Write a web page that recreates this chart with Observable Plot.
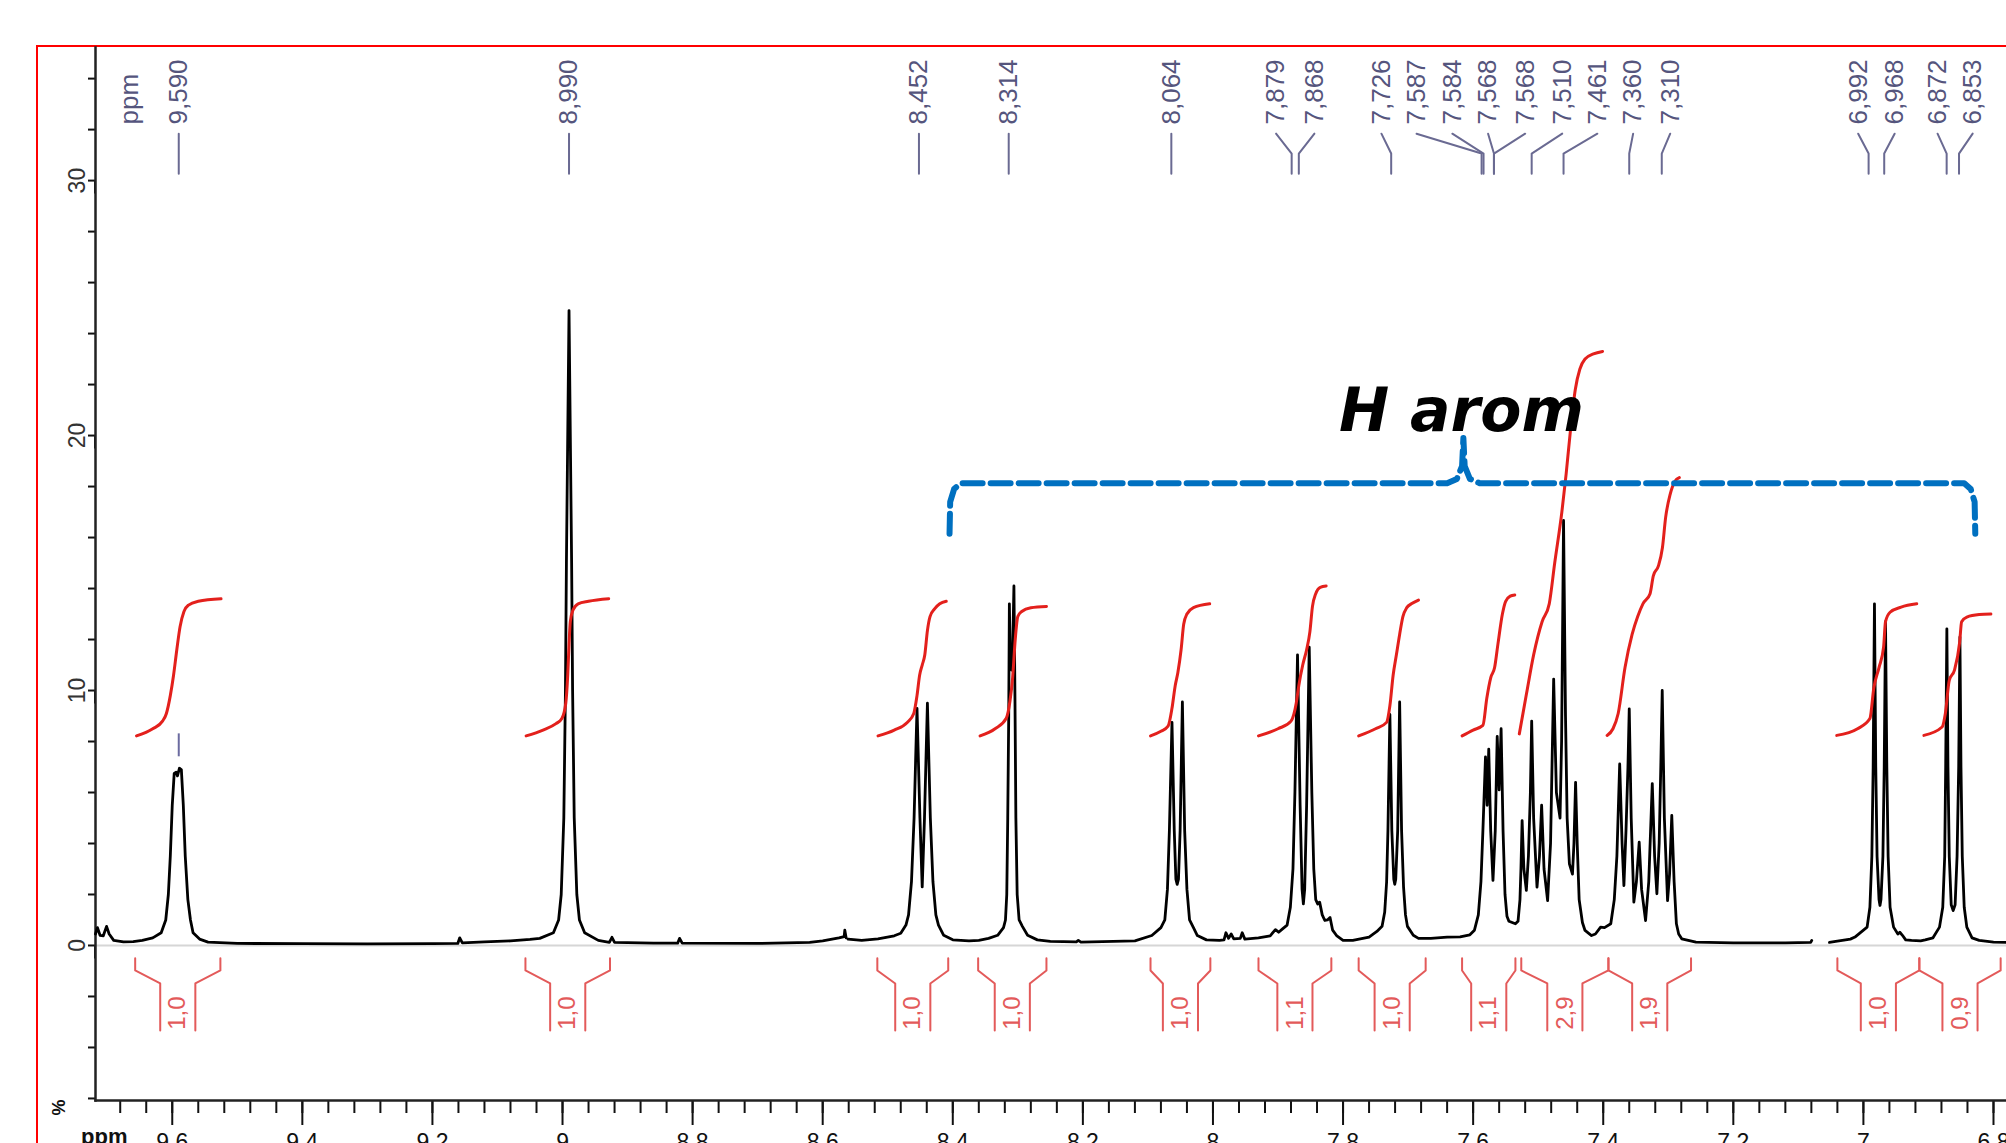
<!DOCTYPE html>
<html>
<head>
<meta charset="utf-8">
<script src="https://cdn.jsdelivr.net/npm/d3@7"></script>
<script src="https://cdn.jsdelivr.net/npm/@observablehq/plot@0.6"></script>
<style>
  html, body { margin: 0; padding: 0; background: #fff; overflow: hidden; width: 2006px; height: 1143px; }
  #frame { position: absolute; left: 36px; top: 45px; width: 2200px; height: 1300px;
           border-left: 2px solid #ff0000; border-top: 2px solid #ff0000; box-sizing: border-box; }
  #chart { position: absolute; left: 0; top: 0; }
</style>
</head>
<body>
<div id="frame"></div>
<div id="chart"></div>
<script>
// ---------- DATA ----------
// 1H NMR trace: [chemical shift (ppm), intensity (%)]; null = gap in the trace
const spectrum = [
 [9.718,0.45],[9.715,0.7],[9.711,0.4],[9.706,0.38],[9.701,0.75],[9.697,0.45],[9.690,0.2],[9.675,0.14],[9.660,0.15],[9.646,0.2],[9.630,0.3],[9.617,0.5],[9.610,1.0],[9.606,2.0],[9.603,3.5],[9.600,5.5],[9.597,6.75],[9.594,6.8],[9.592,6.65],[9.589,6.95],[9.586,6.9],[9.583,5.5],[9.580,3.5],[9.576,1.8],[9.572,1.0],[9.568,0.5],[9.558,0.25],[9.545,0.13],
 [9.50,0.08],[9.40,0.07],[9.30,0.06],[9.20,0.07],[9.161,0.08],[9.158,0.3],[9.154,0.1],[9.12,0.14],[9.08,0.18],[9.05,0.24],[9.035,0.28],[9.014,0.5],[9.006,1.0],[9.002,2.0],[8.998,5],[8.9955,10],[8.994,15],[8.990,24.9],[8.986,15],[8.9845,10],[8.982,5],[8.978,2.0],[8.974,1.0],[8.966,0.5],[8.945,0.2],[8.928,0.12],[8.924,0.32],[8.920,0.12],[8.86,0.09],[8.823,0.09],[8.820,0.28],[8.816,0.09],[8.70,0.08],[8.62,0.12],[8.60,0.18],[8.575,0.3],[8.567,0.35],[8.566,0.6],[8.564,0.3],[8.563,null],[8.561,0.25],
 [8.54,0.2],[8.515,0.26],[8.490,0.38],[8.480,0.48],[8.472,0.8],[8.468,1.2],[8.4635,2.5],[8.4595,5],[8.455,9.3],[8.4505,5],[8.447,2.3],[8.4435,5],[8.439,9.5],[8.4345,5],[8.4305,2.5],[8.426,1.2],[8.422,0.8],[8.414,0.4],[8.400,0.22],[8.375,0.18],
 [8.360,0.2],[8.345,0.28],[8.331,0.4],[8.322,0.7],[8.319,1.0],[8.317,2.0],[8.3155,5],[8.314,9],[8.313,13.4],[8.3115,11],[8.3095,10.8],[8.308,11.5],[8.306,14.1],[8.3045,10],[8.303,5],[8.301,2.0],[8.298,1.0],[8.293,0.75],[8.285,0.4],[8.270,0.22],[8.250,0.16],[8.21,0.14],[8.207,0.2],[8.203,0.13],
 [8.12,0.18],[8.094,0.39],[8.080,0.7],[8.074,1.0],[8.070,2.2],[8.067,4.5],[8.063,8.75],[8.0595,4.5],[8.057,2.6],[8.055,2.4],[8.053,2.6],[8.0505,4.5],[8.047,9.55],[8.0435,4.5],[8.040,2.2],[8.036,1.0],[8.030,0.7],[8.024,0.39],[8.010,0.22],[7.990,0.2],
 [7.983,0.22],[7.980,0.5],[7.976,0.28],[7.972,0.45],[7.968,0.26],[7.958,0.28],[7.955,0.5],[7.951,0.25],[7.930,0.3],[7.912,0.38],[7.904,0.62],[7.899,0.52],[7.893,0.65],[7.886,0.8],[7.881,1.5],[7.877,3.0],[7.874,6],[7.870,11.4],[7.866,5.5],[7.863,2.2],[7.861,1.63],[7.859,2.2],[7.856,5.5],[7.852,11.7],[7.848,6],[7.845,3],[7.842,1.8],[7.839,1.63],[7.836,1.7],[7.832,1.2],[7.828,0.98],[7.824,1.0],[7.820,1.1],[7.816,0.6],[7.810,0.39],[7.800,0.2],
 [7.785,0.2],[7.760,0.33],[7.748,0.55],[7.740,0.75],[7.736,1.3],[7.733,2.5],[7.731,4.5],[7.728,9.06],[7.725,4.5],[7.722,2.6],[7.7205,2.4],[7.719,2.6],[7.716,4.5],[7.713,9.55],[7.710,4.5],[7.707,2.3],[7.704,1.2],[7.701,0.75],[7.692,0.4],[7.684,0.28],[7.665,0.28],[7.640,0.33],
 [7.620,0.34],[7.605,0.42],[7.598,0.6],[7.592,1.2],[7.588,2.5],[7.585,4.5],[7.581,7.4],[7.5785,5.5],[7.576,7.7],[7.573,4.5],[7.5695,2.55],[7.566,4.5],[7.563,8.2],[7.560,6.1],[7.557,8.5],[7.554,4.5],[7.551,2.0],[7.548,1.15],[7.545,0.95],[7.540,0.9],[7.535,0.85],[7.531,0.95],
 [7.528,1.8],[7.5265,3.0],[7.5247,4.9],[7.522,3.0],[7.5182,2.16],[7.515,3.5],[7.512,6],[7.510,8.8],[7.507,5],[7.5018,2.29],[7.498,3.5],[7.4947,5.5],[7.491,3],[7.4855,1.76],[7.481,4],[7.4762,10.45],[7.472,6],[7.4664,5.0],[7.464,8],[7.461,16.67],[7.458,9],[7.4555,5],[7.452,3.2],[7.4473,2.8],[7.445,4],[7.4425,6.4],[7.440,4],[7.437,1.8],[7.432,0.9],[7.428,0.59],[7.418,0.39],[7.412,0.45],[7.404,0.72],[7.398,0.7],[7.3884,0.85],
 [7.383,1.8],[7.379,3.5],[7.3747,7.12],[7.371,4],[7.3682,2.35],[7.365,4.5],[7.362,7],[7.360,9.28],[7.357,5],[7.3529,1.7],[7.349,2.5],[7.3447,4.05],[7.341,2.2],[7.3349,0.98],[7.330,2.5],[7.3246,6.35],[7.321,3.5],[7.3175,2.03],[7.314,4],[7.3115,7],[7.3093,10.0],[7.306,5],[7.3011,1.76],[7.298,2.8],[7.2946,5.1],[7.291,2.5],[7.2875,0.85],[7.284,0.45],[7.2793,0.26],[7.2575,0.13],[7.20,0.1],[7.12,0.1],[7.081,0.12],[7.0794,0.2],[7.079,null],[7.0522,0.12],
 [7.045,0.15],[7.020,0.25],[7.013,0.33],[6.9943,0.72],[6.990,1.5],[6.987,3.5],[6.985,7],[6.983,13.4],[6.981,7],[6.979,3.5],[6.976,1.8],[6.9745,1.57],[6.973,1.8],[6.970,3.5],[6.968,7],[6.966,12.7],[6.964,7],[6.962,3.5],[6.959,1.5],[6.9536,0.72],[6.947,0.45],[6.944,0.52],[6.940,0.4],[6.935,0.22],[6.926,0.2],[6.912,0.18],
 [6.905,0.22],[6.893,0.3],[6.883,0.72],[6.878,1.5],[6.875,3.5],[6.8735,7],[6.8717,12.42],[6.870,7],[6.868,3.5],[6.865,1.6],[6.862,1.37],[6.859,1.6],[6.856,3.5],[6.8535,7],[6.8516,12.1],[6.850,7],[6.848,3.5],[6.845,1.5],[6.841,0.72],[6.833,0.3],[6.822,0.2],[6.80,0.13],[6.78,0.12]
];

// integral traces (red S-curves), one list per integrated region: [ppm, level]
const integralTraces = [
 [[9.655,8.22],[9.630,8.5],[9.615,8.8],[9.609,9.1],[9.603,9.8],[9.598,10.6],[9.593,11.6],[9.588,12.5],[9.582,13.1],[9.575,13.35],[9.560,13.5],[9.525,13.6]],
 [[9.056,8.22],[9.030,8.45],[9.010,8.7],[9.001,8.9],[8.995,9.5],[8.992,10.6],[8.990,11.8],[8.988,12.7],[8.984,13.15],[8.976,13.4],[8.960,13.5],[8.929,13.6]],
 [[8.515,8.22],[8.490,8.45],[8.470,8.75],[8.460,9.1],[8.455,9.8],[8.451,10.6],[8.447,11.0],[8.443,11.4],[8.439,12.35],[8.435,12.9],[8.428,13.2],[8.420,13.4],[8.410,13.5]],
 [[8.358,8.22],[8.335,8.5],[8.318,8.9],[8.312,9.6],[8.308,10.5],[8.304,12.0],[8.300,12.9],[8.294,13.1],[8.280,13.25],[8.256,13.3]],
 [[8.096,8.22],[8.080,8.4],[8.069,8.6],[8.063,9.3],[8.058,10.2],[8.054,10.7],[8.049,11.6],[8.045,12.6],[8.040,13.0],[8.030,13.25],[8.005,13.4]],
 [[7.930,8.22],[7.900,8.5],[7.880,8.8],[7.872,9.5],[7.868,10.2],[7.862,11.0],[7.856,11.6],[7.851,12.3],[7.847,13.3],[7.842,13.8],[7.835,14.05],[7.826,14.1]],
 [[7.776,8.22],[7.750,8.5],[7.733,8.75],[7.728,9.4],[7.723,10.6],[7.718,11.4],[7.713,12.2],[7.708,12.9],[7.702,13.25],[7.695,13.4],[7.684,13.55]],
 [[7.617,8.22],[7.600,8.45],[7.585,8.63],[7.579,9.7],[7.573,10.5],[7.567,10.9],[7.562,11.8],[7.555,13.0],[7.550,13.5],[7.543,13.7],[7.536,13.75]],
 [[7.529,8.3],[7.518,9.87],[7.507,11.4],[7.494,12.7],[7.483,13.4],[7.4746,15.0],[7.4636,17.0],[7.457,18.5],[7.450,20.3],[7.443,21.8],[7.436,22.6],[7.428,23.0],[7.415,23.2],[7.401,23.3]],
 [[7.394,8.24],[7.385,8.5],[7.377,9.1],[7.3665,10.9],[7.3556,12.2],[7.347,12.9],[7.339,13.4],[7.328,13.8],[7.323,14.5],[7.315,14.9],[7.309,15.6],[7.304,16.8],[7.297,17.7],[7.290,18.2],[7.283,18.35]],
 [[7.041,8.24],[7.009,8.5],[6.990,8.9],[6.984,10.1],[6.976,10.9],[6.969,11.7],[6.966,12.7],[6.959,13.07],[6.942,13.27],[6.918,13.4]],
 [[6.907,8.24],[6.879,8.57],[6.874,9.1],[6.868,10.4],[6.860,10.8],[6.852,11.9],[6.849,12.7],[6.841,12.88],[6.822,12.98],[6.804,13.0]]
];

// integral regions: [from ppm, to ppm, value]
const integralRegions = [
 [9.657, 9.526, "1,0"], [9.057, 8.927, "1,0"], [8.516, 8.407, "1,0"], [8.361, 8.256, "1,0"],
 [8.096, 8.004, "1,0"], [7.930, 7.818, "1,1"], [7.776, 7.673, "1,0"], [7.617, 7.535, "1,1"],
 [7.526, 7.392, "2,9"], [7.392, 7.265, "1,9"], [7.040, 6.914, "1,0"], [6.914, 6.789, "0,9"]
];

// peak-pick labels: text, where the label sits (ppm), where the peak is (ppm)
const peakLabelText = ["9,590","8,990","8,452","8,314","8,064","7,879","7,868","7,726","7,587","7,584","7,568","7,568","7,510","7,461","7,360","7,310","6,992","6,968","6,872","6,853"];
const peakLabelPos  = [9.590, 8.990, 8.452, 8.314, 8.064, 7.903, 7.844, 7.741, 7.687, 7.632, 7.577, 7.520, 7.463, 7.409, 7.354, 7.297, 7.008, 6.952, 6.886, 6.832];
const peakPpm       = [9.590, 8.990, 8.452, 8.314, 8.064, 7.879, 7.868, 7.726, 7.587, 7.584, 7.568, 7.568, 7.510, 7.461, 7.360, 7.310, 6.992, 6.968, 6.872, 6.853];

// "H arom" bracket (blue dashed)
const aromBracket = [[8.405,16.15],[8.404,17.4],[8.398,17.9],[8.388,18.13],[7.640,18.13],[7.625,18.3],[7.617,18.8],[7.615,19.9],[7.613,18.8],[7.605,18.3],[7.590,18.13],[6.845,18.13],[6.835,17.9],[6.829,17.4],[6.828,16.15]];
const aromLabel = {text: "H arom", ppm: 7.618, level: 20.95};

// axis ticks
const xMajorTicks = [9.6, 9.4, 9.2, 9.0, 8.8, 8.6, 8.4, 8.2, 8.0, 7.8, 7.6, 7.4, 7.2, 7.0, 6.8];
const yMajorTicks = [0, 10, 20, 30];
const xDomain = [9.718, 6.78];
const yDomain = [-6.08, 35.22];

// ---------- BUILD ----------
const specData = spectrum.map(([p, v]) => ({p, v: v == null ? NaN : v}));
const integralData = integralTraces.flatMap((tr, i) => tr.map(([p, v]) => ({id: i, p, v})));

const INNER = 0.054;
const bracketData = [];
integralRegions.forEach(([L, R], i) => {
  const d = Math.max(0, ((L - R) - INNER) / 2);
  [[L, -d, "l"], [R, d, "r"]].forEach(([e, s, side]) => {
    const id = i + side;
    bracketData.push({id, p: e, v: -0.5}, {id, p: e, v: -0.98}, {id, p: e + s, v: -1.49}, {id, p: e + s, v: -3.33});
  });
});
const bracketLabels = integralRegions.map(([L, R, t]) => ({p: (L + R) / 2, v: -2.65, t}));

const labelData = peakLabelText.map((t, i) => ({t, p: peakLabelPos[i], v: 32.2}));
const connectorData = peakLabelText.flatMap((t, i) => [
  {id: i, p: peakLabelPos[i], v: 31.84},
  {id: i, p: peakPpm[i], v: 31.06},
  {id: i, p: peakPpm[i], v: 30.27}
]);
const aromData = aromBracket.map(([p, v]) => ({p, v}));

const xMinor = d3.range(0, 74).map(i => +(6.80 + i * 0.04).toFixed(2)).filter(d => d <= xDomain[0]);
const yMinor = d3.range(-6, 36, 2);
const fmt = d => String(+d.toFixed(1)).replace(".", ",");

const labelColor = "#55557d";
const red = "#e3201c";
const lightRed = "#e35a5a";

const chart = Plot.plot({
  width: 2006,
  height: 1143,
  marginLeft: 95,
  marginRight: 0,
  marginTop: 47,
  marginBottom: 43,
  x: {domain: xDomain, label: null},
  y: {domain: yDomain, label: null},
  style: {fontFamily: "'Liberation Sans', Arial, sans-serif", background: "transparent", overflow: "visible", color: "#111"},
  marks: [
    Plot.ruleY([0], {stroke: "#d6d6d6", strokeWidth: 2}),
    Plot.axisY(yMinor, {anchor: "left", tickSize: 7, tickFormat: () => "", label: null, strokeWidth: 2}),
    Plot.axisY(yMajorTicks, {anchor: "left", tickSize: 13, tickPadding: 5, rotate: -90, textAnchor: "middle",
      fontSize: 23, tickFormat: d => String(d), label: null, strokeWidth: 2, fill: "#333"}),
    Plot.axisX(xMinor, {anchor: "bottom", tickSize: 13, tickFormat: () => "", label: null, strokeWidth: 2}),
    Plot.axisX(xMajorTicks, {anchor: "bottom", tickSize: 25, tickPadding: 8, fontSize: 23, tickFormat: fmt, label: null, strokeWidth: 2}),
    Plot.frame({anchor: "left", strokeWidth: 2.5, stroke: "#222"}),
    Plot.frame({anchor: "bottom", strokeWidth: 2.5, stroke: "#222"}),
    // spectrum
    Plot.line(specData, {x: "p", y: "v", stroke: "#000", strokeWidth: 2.8}),
    // small peak-pick marker above 9.59
    Plot.ruleX([9.590], {y1: 7.4, y2: 8.3, stroke: "#6b6ba0", strokeWidth: 2}),
    // integrals
    Plot.line(integralData, {x: "p", y: "v", z: "id", stroke: red, strokeWidth: 3, curve: "monotone-x"}),
    Plot.line(bracketData, {x: "p", y: "v", z: "id", stroke: lightRed, strokeWidth: 2}),
    Plot.text(bracketLabels, {x: "p", y: "v", text: "t", rotate: -90, fill: lightRed, fontSize: 24, textAnchor: "middle"}),
    // peak labels
    Plot.line(connectorData, {x: "p", y: "v", z: "id", stroke: "#6a6a92", strokeWidth: 2}),
    Plot.text(labelData, {x: "p", y: "v", text: "t", rotate: -90, textAnchor: "start", fill: labelColor, fontSize: 26}),
    Plot.text(["ppm"], {x: 9.665, y: 32.2, text: d => d, rotate: -90, textAnchor: "start", fill: labelColor, fontSize: 26}),
    // H arom bracket
    Plot.line(aromData, {x: "p", y: "v", stroke: "#0070c0", strokeWidth: 6, strokeDasharray: "20,8"}),
    Plot.text([aromLabel], {x: "ppm", y: "level", text: "text", fontSize: 60, fontWeight: "bold", fontStyle: "italic",
      fontFamily: "'DejaVu Sans', sans-serif", fill: "#000", textAnchor: "middle"}),
    // axis unit labels
    Plot.text(["ppm"], {x: 9.7045, y: -7.18, text: d => d, fontSize: 22, fontWeight: "bold", lineAnchor: "top", fill: "#111"}),
    Plot.text(["%"], {x: 9.7737, y: -6.35, text: d => d, fontSize: 18, fontWeight: "bold", rotate: -90, fill: "#111"})
  ]
});
document.getElementById("chart").append(chart);
</script>
</body>
</html>
